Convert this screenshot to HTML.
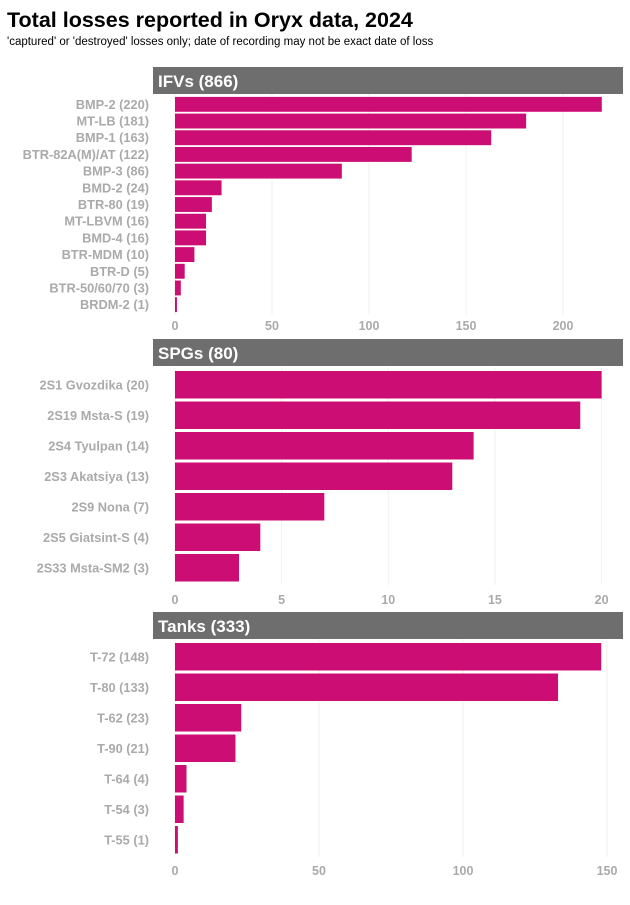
<!DOCTYPE html>
<html><head><meta charset="utf-8"><style>
body{margin:0;background:#fff;font-family:"Liberation Sans",Arial,sans-serif}
svg text{font-family:"Liberation Sans",Arial,sans-serif}
</style></head><body>
<svg id="c" width="630" height="900" xmlns="http://www.w3.org/2000/svg">
<text x="7" y="27" font-size="21.5" font-weight="bold" fill="#000">Total losses reported in Oryx data, 2024</text>
<text x="7" y="45" font-size="11.5" fill="#000">'captured' or 'destroyed' losses only; date of recording may not be exact date of loss</text>
</svg>
<script>
const ifvCats=["BMP-2 (220)","MT-LB (181)","BMP-1 (163)","BTR-82A(M)/AT (122)","BMP-3 (86)","BMD-2 (24)","BTR-80 (19)","MT-LBVM (16)","BMD-4 (16)","BTR-MDM (10)","BTR-D (5)","BTR-50/60/70 (3)","BRDM-2 (1)"];
const ifvVals=[220,181,163,122,86,24,19,16,16,10,5,3,1];
const ifvTicks=[0,50,100,150,200];
const spgCats=["2S1 Gvozdika (20)","2S19 Msta-S (19)","2S4 Tyulpan (14)","2S3 Akatsiya (13)","2S9 Nona (7)","2S5 Giatsint-S (4)","2S33 Msta-SM2 (3)"];
const spgVals=[20,19,14,13,7,4,3];
const spgTicks=[0,5,10,15,20];
const tankCats=["T-72 (148)","T-80 (133)","T-62 (23)","T-90 (21)","T-64 (4)","T-54 (3)","T-55 (1)"];
const tankVals=[148,133,23,21,4,3,1];
const tankTicks=[0,50,100,150];

const svg=document.getElementById('c');
const NS='http://www.w3.org/2000/svg';
function mk(t,a){const e=document.createElementNS(NS,t);for(const k in a)e.setAttribute(k,a[k]);svg.appendChild(e);return e;}
function panel(key,title,cats,vals,ticks,hTop,barTop,barBot,pxPerUnit,tickY,pad){
  const x0=175;
  const xs=v=>x0+v*pxPerUnit;
  const h=mk('rect',{x:153,y:hTop,width:470,height:27,fill:'#6e6e6e'});
  
  
  const ht=mk('text',{x:158,y:hTop+20,'font-size':17,'font-weight':'bold',fill:'#fff'});
  ht.textContent=title;
  
  
  ticks.forEach(t=>{
    const g=mk('line',{x1:xs(t),x2:xs(t),y1:barTop-2,y2:barBot+2,stroke:'#f0f0f0','stroke-width':1});
    
    
    const tl=mk('text',{x:xs(t),y:tickY,'font-size':12.5,'font-weight':'bold',fill:'#aaa','text-anchor':'middle'});
    tl.textContent=t;
    
    
  });
  const step=(barBot-barTop)/cats.length;
  cats.forEach((c,i)=>{
    const y=barTop+i*step;
    const b=mk('rect',{x:x0,y:y+pad/2,width:Math.max(0,xs(vals[i])-x0),height:step-pad,fill:'#cc0e74'});
    
    
    const l=mk('text',{x:149,y:y+step/2+4.5,'font-size':12.8,'font-weight':'bold',fill:'#aaa','text-anchor':'end'});
    l.textContent=c;
    
    
  });
}
panel('ifv','IFVs (866)',ifvCats,ifvVals,ifvTicks,67,96,313,1.94,330,1.8);
panel('spg','SPGs (80)',spgCats,spgVals,spgTicks,339,369.5,583,21.33,604,3);
panel('tank','Tanks (333)',tankCats,tankVals,tankTicks,612,641.5,855,2.88,875,3);
</script>
</body></html>
